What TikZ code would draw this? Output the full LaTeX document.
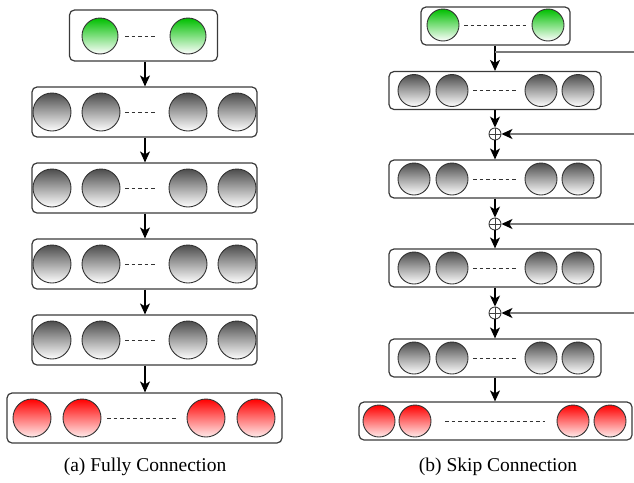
\documentclass[tikz,border=0pt]{standalone}
\usepackage{fontspec}
\setmainfont{Liberation Serif}
\usetikzlibrary{arrows.meta}
\definecolor{boxline}{HTML}{3A3A3A}
\definecolor{skipline}{HTML}{7A7A7A}
\tikzset{
  layerbox/.style={draw=boxline, line width=1.2pt, rounded corners=5pt, minimum width=#1, inner sep=0pt},
  grayn/.style={circle, draw=black!80, line width=0.9pt, inner sep=0pt, minimum size=#1, top color=black!70, bottom color=white},
  greenn/.style={circle, draw=black!80, line width=0.9pt, inner sep=0pt, minimum size=#1, top color=green!75!black, bottom color=white},
  redn/.style={circle, draw=black!80, line width=0.9pt, inner sep=0pt, minimum size=#1, top color=red, bottom color=red!8},
  dots/.style={draw=black!80, line width=1pt, dash pattern=on 3.5pt off 3pt},
  flow/.style={draw=black, line width=1.1pt, -{Stealth[length=11pt,width=10pt,inset=3pt]}},
  skip/.style={draw=skipline, line width=1.5pt},
  skiparrow/.style={draw=skipline, line width=1.5pt, -{Stealth[length=11pt,width=10pt,inset=3pt,fill=black,color=black]}},
  addop/.style={circle, draw=black!75, line width=0.9pt, inner sep=0pt, minimum size=12pt,
    path picture={\draw[black!75, line width=0.8pt] (path picture bounding box.north) -- (path picture bounding box.south)
      (path picture bounding box.west) -- (path picture bounding box.east);}},
  caption/.style={font=\fontsize{19.5}{22}\selectfont, inner sep=0pt}
}
\begin{document}
\begin{tikzpicture}[x=1pt,y=-1pt]
\useasboundingbox (0,0) rectangle (634,482);
% ===== Left: Fully Connection =====
\node[layerbox=148pt, minimum height=51pt] (LB0) at (143.5,35.5) {};
\node[greenn=36pt] (LB0a) at (100,36) {};
\node[greenn=36pt] (LB0b) at (188,36) {};
\draw[dots] (125,36) -- (157,36);
\foreach \k/\y in {1/112,2/188,3/264,4/340}{
  \node[layerbox=225pt, minimum height=50pt] (LB\k) at (144.5,\y) {};
  \node[grayn=38pt] (LB\k a) at (52,\y) {};
  \node[grayn=38pt] (LB\k b) at (101,\y) {};
  \node[grayn=38pt] (LB\k c) at (188,\y) {};
  \node[grayn=38pt] (LB\k d) at (237,\y) {};
  \draw[dots] (125,\y) -- (157,\y);
}
\node[layerbox=275pt, minimum height=50pt] (LB5) at (144.5,418) {};
\node[redn=38pt] (LB5a) at (32,418) {};
\node[redn=38pt] (LB5b) at (82,418) {};
\node[redn=38pt] (LB5c) at (206,418) {};
\node[redn=38pt] (LB5d) at (256,418) {};
\draw[dots] (107,418) -- (178,418);
\foreach \a/\b in {0/1,1/2,2/3,3/4,4/5}{
  \draw[flow] (LB\a.south -| 145,0) -- (LB\b.north -| 145,0);
}
\node[caption] (capa) at (145,467) {(a) Fully Connection};
% ===== Right: Skip Connection =====
\node[layerbox=149pt, minimum height=38pt] (RB0) at (495.5,26) {};
\node[greenn=32pt] (RB0a) at (443,25) {};
\node[greenn=32pt] (RB0b) at (548,25) {};
\draw[dots] (464,25) -- (528,25);
\foreach \k/\y in {1/90.5,2/179,3/268,4/358}{
  \node[layerbox=212pt, minimum height=38pt] (RB\k) at (495,\y) {};
  \node[grayn=32pt] (RB\k a) at (414,\y) {};
  \node[grayn=32pt] (RB\k b) at (452,\y) {};
  \node[grayn=32pt] (RB\k c) at (541,\y) {};
  \node[grayn=32pt] (RB\k d) at (578,\y) {};
  \draw[dots] (473,\y) -- (518,\y);
}
\node[layerbox=273pt, minimum height=38pt] (RB5) at (495.5,421) {};
\node[redn=32pt] (RB5a) at (379,421) {};
\node[redn=32pt] (RB5b) at (415,421) {};
\node[redn=32pt] (RB5c) at (573,421) {};
\node[redn=32pt] (RB5d) at (610,421) {};
\draw[dots] (445,421) -- (545,421);
% adders
\node[addop] (P1) at (495,134) {};
\node[addop] (P2) at (495,224) {};
\node[addop] (P3) at (495,313) {};
% main flow
\draw[flow] (RB0.south -| 495,0) -- (RB1.north -| 495,0);
\draw[flow] (RB1.south -| 495,0) -- (P1.north);
\draw[flow] (P1.south) -- (RB2.north -| 495,0);
\draw[flow] (RB2.south -| 495,0) -- (P2.north);
\draw[flow] (P2.south) -- (RB3.north -| 495,0);
\draw[flow] (RB3.south -| 495,0) -- (P3.north);
\draw[flow] (P3.south) -- (RB4.north -| 495,0);
\draw[flow] (RB4.south -| 495,0) -- (RB5.north -| 495,0);
% skip lines
\coordinate (S0) at (495,52);
\coordinate (E0) at (634,52);
\coordinate (E1) at (634,134);
\coordinate (E2) at (634,224);
\coordinate (E3) at (634,313);
\draw[skip] (S0) -- (E0);
\draw[skiparrow] (E1) -- (P1.east);
\draw[skiparrow] (E2) -- (P2.east);
\draw[skiparrow] (E3) -- (P3.east);
\node[caption] (capb) at (498,467) {(b) Skip Connection};
\end{tikzpicture}
\end{document}
